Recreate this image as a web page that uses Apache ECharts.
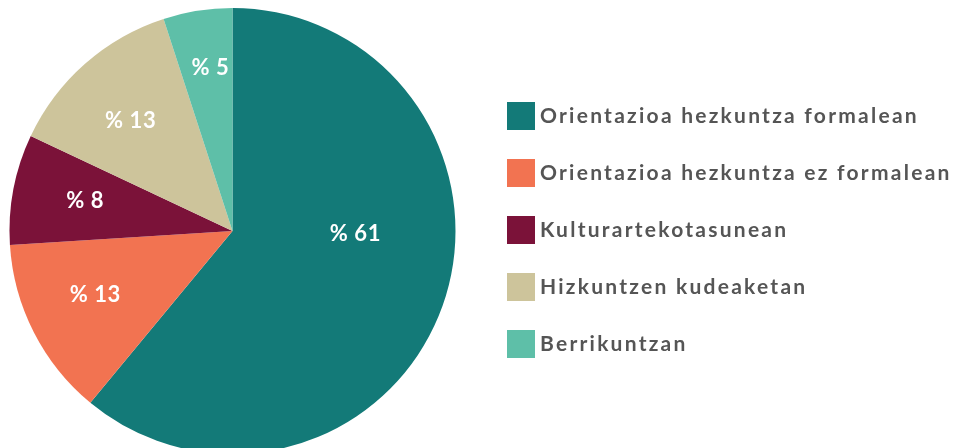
<!DOCTYPE html>
<html><head><meta charset="utf-8">
<script src="https://cdn.jsdelivr.net/npm/echarts@6/dist/echarts.min.js"></script>
<style>html,body{margin:0;padding:0;background:#fff}#c{width:954px;height:448px}</style>
</head><body><div id="c"></div>
<script>
const categories = ['Orientazioa hezkuntza formalean','Orientazioa hezkuntza ez formalean','Kulturartekotasunean','Hizkuntzen kudeaketan','Berrikuntzan'];
const values = [61, 13, 8, 13, 5];
const colors = ['#137a78','#f27351','#7b1239','#cdc49b','#5ebfa8'];

// wide tracking like the reference typeface
(function(){
  const p = CanvasRenderingContext2D.prototype;
  const ft = p.fillText, mt = p.measureText;
  const ls = ctx => (ctx.font.indexOf('22px') >= 0 ? '0.6px' : '2.25px');
  p.fillText = function(){ this.letterSpacing = ls(this); return ft.apply(this, arguments); };
  p.measureText = function(){ this.letterSpacing = ls(this); return mt.apply(this, arguments); };
})();

const chart = echarts.init(document.getElementById('c'));
const data = categories.map((n,i)=>({name:n, value:values[i], itemStyle:{color:colors[i]}}));
const labelOffsets = [[-22,-49],[0,-6],[4,-1],[0,5],[2,-11]];
const labelData = categories.map((n,i)=>({
  name:n, value:values[i], itemStyle:{color:'rgba(0,0,0,0)'}, label:{offset:labelOffsets[i]}
}));
chart.setOption({
  animation:false,
  legend:{
    orient:'vertical', left:507, top:102, padding:0, itemWidth:28, itemHeight:28, itemGap:29,
    icon:'rect', data:categories,
    textStyle:{color:'#555', fontSize:21, fontWeight:'bold', fontFamily:'Lato'}
  },
  series:[
    {type:'pie', center:[232.5,231], radius:223, startAngle:90, clockwise:true, silent:true,
     label:{show:false}, labelLine:{show:false}, data:data},
    {type:'pie', center:[232.5,231], radius:[79,223], startAngle:90, clockwise:true, silent:true,
     label:{show:true, position:'inside', formatter:'% {c}', color:'#fff', fontSize:22, fontWeight:'bold', fontFamily:'Lato'},
     labelLine:{show:false}, data:labelData}
  ]
});
</script></body></html>
